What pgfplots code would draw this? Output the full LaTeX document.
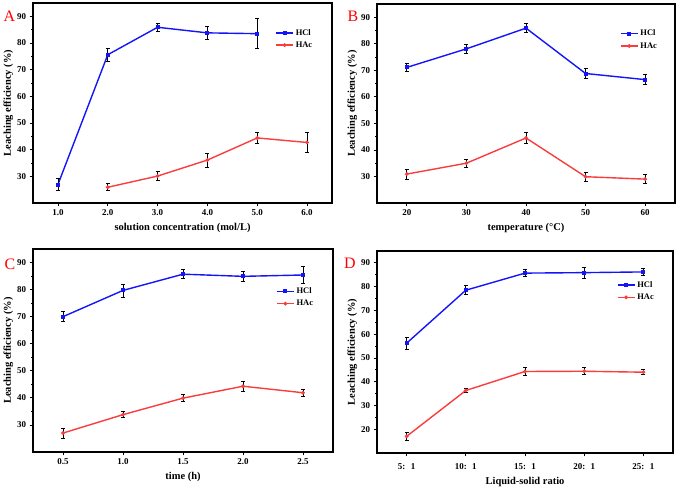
\documentclass[border=0pt]{standalone}
\usepackage{pgfplots}
\pgfplotsset{compat=1.18}
\usepackage{fontspec}
\setmainfont{Liberation Serif}
\definecolor{hclblue}{RGB}{20,20,250}
\definecolor{hacred}{RGB}{250,60,60}
\pgfplotsset{
  panel/.style={
    scale only axis,
    axis line style={line width=1.1pt, black},
    tick pos=left,
    tick align=outside,
    major tick length=3.5pt,
    minor tick length=2pt,
    every tick/.style={black, line width=0.8pt},
    minor y tick num=1,
    /pgf/number format/assume math mode=true,
    tick label style={font=\fontsize{9}{10}\selectfont\bfseries},
    label style={font=\fontsize{10.5}{12}\selectfont\bfseries},
    ylabel shift=-3bp,
    ylabel={Leaching efficiency (\%)},
    legend style={draw=none, fill=none, font=\fontsize{8.5}{9}\selectfont\bfseries,
      inner sep=0pt, row sep=1pt, cells={anchor=west}},
    legend image code/.code={
      \draw[mark repeat=2,mark phase=2,#1] plot coordinates {(0cm,0cm) (0.3cm,0cm) (0.6cm,0cm)};},
  },
  hcl/.style={color=hclblue, line width=1.4pt, mark=square*, mark size=1.3pt,
    mark options={solid, fill=hclblue},
    error bars/.cd, y dir=both, y explicit,
    error bar style={black, line width=0.8pt},
    error mark options={rotate=90, black, mark size=2pt, line width=0.8pt}},
  hac/.style={color=hacred, line width=1.4pt, mark=*, mark size=1.1pt,
    mark options={solid, fill=hacred},
    error bars/.cd, y dir=both, y explicit,
    error bar style={black, line width=0.8pt},
    error mark options={rotate=90, black, mark size=2pt, line width=0.8pt}},
}
\begin{document}
\begin{tikzpicture}
\useasboundingbox (0,0) rectangle (678bp,487bp);
% Panel A
\begin{axis}[panel, at={(33bp,284bp)}, anchor=south west, width=299bp, height=200bp,
  xmin=0.5, xmax=6.5, ymin=20, ymax=95,
  xtick={1,2,3,4,5,6}, ytick={30,40,...,90},
  xticklabel style={/pgf/number format/.cd, fixed, fixed zerofill, precision=1},
  xlabel={solution concentration (mol/L)},
  legend style={at={(0.81,0.88)}, anchor=north west}]
\addplot+[hcl] table[x=x, y=y, y error=e] {
x y e
1 26.9 2.3
2 75.6 2.4
3 85.9 1.6
4 83.8 2.4
5 83.5 5.6
};
\addlegendentry{HCl}
\addplot+[hac] table[x=x, y=y, y error=e] {
x y e
2 25.9 1.3
3 30.1 1.7
4 36.1 2.6
5 44.4 1.9
6 42.7 3.6
};
\addlegendentry{HAc}
\end{axis}
% Panel B
\begin{axis}[panel, at={(377bp,284bp)}, anchor=south west, width=298bp, height=199bp,
  xmin=15, xmax=65, ymin=20, ymax=95,
  xtick={20,30,40,50,60}, ytick={30,40,...,90},
  xlabel={temperature (°C)},
  legend style={at={(0.815,0.88)}, anchor=north west}]
\addplot+[hcl] table[x=x, y=y, y error=e] {
x y e
20 71.1 1.5
30 78.1 1.6
40 85.9 1.6
50 68.8 1.9
60 66.5 1.9
};
\addlegendentry{HCl}
\addplot+[hac] table[x=x, y=y, y error=e] {
x y e
20 30.9 1.9
30 35.0 1.6
40 44.5 2.1
50 29.9 1.6
60 29.0 1.6
};
\addlegendentry{HAc}
\end{axis}
% Panel C
\begin{axis}[panel, at={(33bp,35bp)}, anchor=south west, width=300bp, height=203bp,
  xmin=0.25, xmax=2.75, ymin=20, ymax=95,
  xtick={0.5,1,1.5,2,2.5}, ytick={30,40,...,90},
  xticklabel style={/pgf/number format/.cd, fixed, fixed zerofill, precision=1},
  xlabel={time (h)},
  legend style={at={(0.81,0.82)}, anchor=north west}]
\addplot+[hcl] table[x=x, y=y, y error=e] {
x y e
0.5 70.0 1.9
1.0 79.7 2.4
1.5 85.7 1.6
2.0 84.9 2.0
2.5 85.4 3.1
};
\addlegendentry{HCl}
\addplot+[hac] table[x=x, y=y, y error=e] {
x y e
0.5 27.0 1.8
1.0 33.8 1.2
1.5 39.9 1.2
2.0 44.3 1.9
2.5 41.9 1.2
};
\addlegendentry{HAc}
\end{axis}
% Panel D
\begin{axis}[panel, at={(377bp,34bp)}, anchor=south west, width=296bp, height=202bp,
  xmin=-0.5, xmax=4.5, ymin=10, ymax=95,
  xtick={0,1,2,3,4}, ytick={20,30,...,90},
  xticklabels={{5:\hspace{0.6em}1},{10:\hspace{0.6em}1},{15:\hspace{0.6em}1},{20:\hspace{0.6em}1},{25:\hspace{0.6em}1}},
  xticklabel style={yshift=-4bp},
  xlabel={Liquid-solid ratio},
  legend style={at={(0.81,0.86)}, anchor=north west}]
\addplot+[hcl] table[x=x, y=y, y error=e] {
x y e
0 56.2 2.5
1 78.5 1.9
2 85.7 1.5
3 85.9 2.4
4 86.2 1.6
};
\addlegendentry{HCl}
\addplot+[hac] table[x=x, y=y, y error=e] {
x y e
0 17.0 1.7
1 36.3 1.0
2 44.3 1.8
3 44.4 1.5
4 44.0 1.0
};
\addlegendentry{HAc}
\end{axis}
\node[red, font=\fontsize{16}{18}\selectfont] at (9.5bp,471bp) {A};
\node[red, font=\fontsize{16}{18}\selectfont] at (353bp,471bp) {B};
\node[red, font=\fontsize{16}{18}\selectfont] at (10bp,223bp) {C};
\node[red, font=\fontsize{16}{18}\selectfont] at (350bp,224bp) {D};
\end{tikzpicture}
\end{document}
